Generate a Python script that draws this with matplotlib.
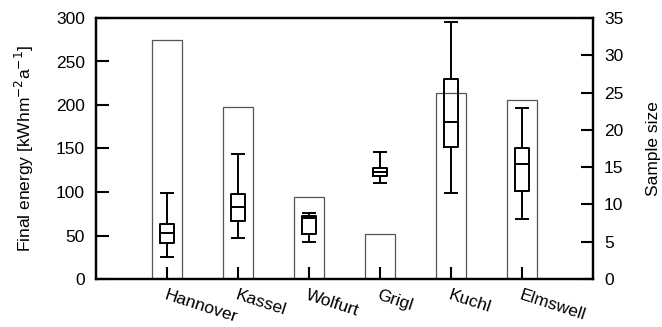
import matplotlib
matplotlib.use('Agg')
import matplotlib.pyplot as plt

plt.rcParams['font.family'] = ['Liberation Sans', 'DejaVu Sans']

sites = ['Hannover', 'Kassel', 'Wolfurt', 'Grigl', 'Kuchl', 'Elmswell']
sample_size = [32, 23, 11, 6, 25, 24]
whis_lo = [25.6, 46.8, 42.9, 110.7, 99.2, 69]
q1 = [41.8, 67, 51.4, 118.4, 152, 101]
median = [52.5, 82.4, 70, 123.4, 180.8, 132.2]
q3 = [62.8, 97.7, 72.5, 127.2, 230.3, 151]
whis_hi = [99.2, 143.3, 76.2, 145.6, 295.8, 196.2]

fs = 12.5

fig = plt.figure(figsize=(6.62, 3.27), dpi=100)
ax = fig.add_axes([96 / 662, 48 / 327, 497 / 662, 261 / 327])
ax2 = ax.twinx()

x = list(range(len(sites)))

# sample size bars on the right axis
ax2.bar(x, sample_size, width=0.41, facecolor='white', edgecolor='#555555', linewidth=0.9, zorder=1)
ax2.set_ylim(0, 35)
ax2.set_yticks(range(0, 36, 5))
ax2.set_ylabel('Sample size', fontsize=fs, labelpad=16)

# boxplots drawn on top
ax.set_zorder(ax2.get_zorder() + 1)
ax.patch.set_visible(False)
stats = []
for i in range(len(sites)):
    stats.append({'med': median[i], 'q1': q1[i], 'q3': q3[i],
                  'whislo': whis_lo[i], 'whishi': whis_hi[i], 'fliers': []})
lw = 1.4
ax.bxp(stats, positions=x, widths=0.2, showfliers=False,
       boxprops=dict(color='black', linewidth=lw),
       medianprops=dict(color='black', linewidth=lw),
       whiskerprops=dict(color='black', linewidth=lw),
       capprops=dict(color='black', linewidth=lw), capwidths=0.18)

ax.set_xlim(-1, 6)
ax.set_ylim(0, 300)
ax.set_yticks(range(0, 301, 50))
ax.set_ylabel('Final energy [kWhm$^{-2}$a$^{-1}$]', fontsize=fs, labelpad=14)
ax.set_xticks(x)
ax.set_xticklabels(sites, rotation=-18, ha='left', va='top', rotation_mode='anchor', fontsize=fs)

for a in (ax, ax2):
    for s in a.spines.values():
        s.set_linewidth(1.6)
ax.tick_params(axis='both', direction='in', length=9, width=1.5, labelsize=fs)
ax.tick_params(axis='x', pad=6)
ax.tick_params(axis='y', pad=8)
ax2.tick_params(axis='y', direction='in', length=9, width=1.5, labelsize=fs, pad=8)

fig.savefig('out.png', dpi=100)
